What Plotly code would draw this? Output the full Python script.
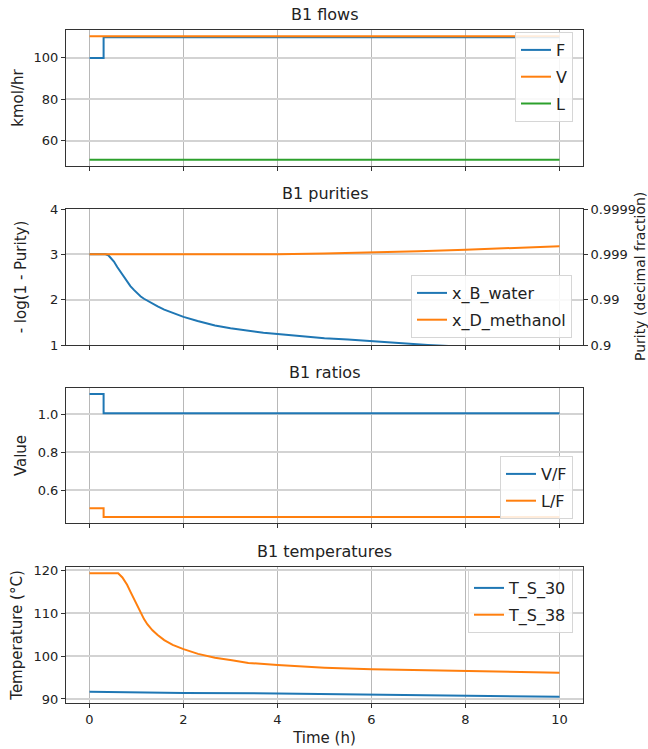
import plotly.graph_objects as go

# ---- data ----
step_t = [0, 0.3, 10]
F_flow = [100, 110, 110]
V_flow = [110.5, 110.5, 110.5]
L_flow = [50.7, 50.7, 50.7]

xB_t = [0, 0.34, 0.40, 0.44, 0.52, 0.59, 0.66, 0.73, 0.80, 0.87, 0.95, 1.02, 1.09, 1.16, 1.30, 1.45, 1.59,
        1.8, 2.0, 2.3, 2.67, 3.0, 3.38, 3.7, 4.0, 4.5, 5.0, 5.5, 6.0, 6.5, 7.2, 8.0, 9.0, 10.0]
xB_water = [3.0, 3.0, 2.98, 2.94, 2.84, 2.72, 2.61, 2.51, 2.40, 2.30, 2.21, 2.13, 2.07, 2.02, 1.93, 1.85, 1.78,
            1.69, 1.62, 1.53, 1.43, 1.37, 1.31, 1.27, 1.24, 1.19, 1.15, 1.12, 1.08, 1.05, 1.0, 0.96, 0.91, 0.87]
xD_t = [0, 1, 2, 3, 4, 5, 6, 7, 8, 9, 10]
xD_methanol = [3.0, 3.0, 2.995, 2.995, 3.0, 3.02, 3.04, 3.07, 3.1, 3.14, 3.18]

VF_ratio = [1.105, 1.005, 1.005]
LF_ratio = [0.507, 0.461, 0.461]

T38_t = [0, 0.61, 0.70, 0.80, 0.87, 0.95, 1.02, 1.09, 1.16, 1.23, 1.34, 1.45, 1.59, 1.77, 2.0, 2.31, 2.67,
         3.03, 3.38, 4.0, 5.0, 6.0, 7.0, 8.0, 9.0, 10.0]
T_S_38 = [119.3, 119.3, 118.3, 116.6, 115.0, 113.2, 111.4, 109.9, 108.6, 107.4, 106.0, 104.9, 103.7, 102.6, 101.6,
          100.5, 99.6, 99.0, 98.4, 97.9, 97.3, 96.9, 96.7, 96.5, 96.3, 96.1]
T30_t = [0, 0.8, 1.0, 2, 4, 6, 8, 10]
T_S_30 = [91.7, 91.6, 91.45, 91.4, 91.3, 91.0, 90.8, 90.5]

x_ticks = [0, 2, 4, 6, 8, 10]
purity_tickvals = [1, 2, 3, 4]
purity_ticktext = ["0.9", "0.99", "0.999", "0.9999"]
titles = ["B1 flows", "B1 purities", "B1 ratios", "B1 temperatures"]

C0, C1, C2 = "#1f77b4", "#ff7f0e", "#2ca02c"
FONT = "DejaVu Sans"

fig = go.Figure()

def line(x, y, name, color, xa, ya, leg, shape="linear"):
    fig.add_trace(go.Scatter(x=x, y=y, name=name, mode="lines", line=dict(color=color, width=2, shape=shape),
                             xaxis=xa, yaxis=ya, legend=leg, legendgroup=name))

line(step_t, F_flow, "F", C0, "x", "y", "legend", "hv")
line(step_t, V_flow, "V", C1, "x", "y", "legend", "hv")
line(step_t, L_flow, "L", C2, "x", "y", "legend", "hv")
line(xB_t, xB_water, "x_B_water", C0, "x2", "y2", "legend2")
line(xD_t, xD_methanol, "x_D_methanol", C1, "x2", "y5", "legend2")
line(step_t, VF_ratio, "V/F", C0, "x3", "y3", "legend3", "hv")
line(step_t, LF_ratio, "L/F", C1, "x3", "y3", "legend3", "hv")
line(T30_t, T_S_30, "T_S_30", C0, "x4", "y4", "legend4")
line(T38_t, T_S_38, "T_S_38", C1, "x4", "y4", "legend4")

L, R, T, B = 66, 65, 30, 46
W, H = 648, 749
ph = H - T - B
pw = W - L - R
def py(px):
    return 1 - (px - T) / ph
def pxx(px):
    return (px - L) / pw

domains = [(py(166), 1.0), (py(345), py(209)), (py(523), py(388)), (0.0, py(567))]

common_ax = dict(showline=True, mirror=True, linecolor="#333333", linewidth=1, automargin=False,
                 ticks="outside", ticklen=4, tickcolor="#333333", zeroline=False,
                 tickfont=dict(family=FONT, size=13, color="#222222"))

layout = dict(width=W, height=H, margin=dict(l=L, r=R, t=T, b=B, autoexpand=False),
              plot_bgcolor="white", paper_bgcolor="white",
              font=dict(family=FONT, size=13, color="#222222"), showlegend=True)

for i in range(4):
    sfx = "" if i == 0 else str(i + 1)
    xa = dict(common_ax, domain=[0, 1], anchor="y" + sfx, range=[-0.5, 10.5], tickvals=x_ticks,
              showgrid=True, gridcolor="#b8b8b8", gridwidth=1, showticklabels=(i == 3))
    if i != 0:
        xa["matches"] = "x"
    if i == 3:
        xa["title"] = dict(text="Time (h)", font=dict(family=FONT, size=15), standoff=6)
    layout["xaxis" + sfx] = xa

ytitle_font = dict(family=FONT, size=15, color="#222222")
layout["yaxis"] = dict(common_ax, domain=domains[0], anchor="x", range=[47.7, 113.5], tickvals=[60, 80, 100],
                       showgrid=True, gridcolor="#d3d3d3", gridwidth=1.5,
                       title=dict(text="kmol/hr", font=ytitle_font, standoff=6))
layout["yaxis2"] = dict(common_ax, domain=domains[1], anchor="x2", range=[1, 4], tickvals=purity_tickvals,
                        showgrid=True, gridcolor="#d3d3d3", gridwidth=1.5,
                        title=dict(text="- log(1 - Purity)", font=ytitle_font, standoff=19))
layout["yaxis5"] = dict(common_ax, overlaying="y2", side="right", anchor="x2", range=[1, 4],
                        tickvals=purity_tickvals, ticktext=purity_ticktext, showgrid=False, mirror=False)
layout["yaxis3"] = dict(common_ax, domain=domains[2], anchor="x3", range=[0.429, 1.137], tickvals=[0.6, 0.8, 1.0],
                        tickformat=".1f", showgrid=True, gridcolor="#d3d3d3", gridwidth=1.5,
                        title=dict(text="Value", font=ytitle_font, standoff=7))
layout["yaxis4"] = dict(common_ax, domain=domains[3], anchor="x4", range=[89.06, 120.74], tickvals=[90, 100, 110, 120],
                        showgrid=True, gridcolor="#d3d3d3", gridwidth=1.5,
                        title=dict(text="Temperature (°C)", font=ytitle_font, standoff=7))

leg_common = dict(bgcolor="rgba(255,255,255,0.85)", bordercolor="#d6d6d6", borderwidth=1,
                  font=dict(family=FONT, size=16, color="#222222"), xanchor="right",
                  tracegroupgap=3, itemwidth=30)
layout["legend"] = dict(leg_common, x=pxx(573), y=py(32), yanchor="top")
layout["legend2"] = dict(leg_common, x=pxx(572), y=py(338), yanchor="bottom")
layout["legend3"] = dict(leg_common, x=pxx(573), y=py(519), yanchor="bottom")
layout["legend4"] = dict(leg_common, x=pxx(573), y=py(570), yanchor="top")

ann = []
for i, t in enumerate(titles):
    ann.append(dict(text=t, x=0.5, xref="paper", y=domains[i][1], yref="paper", yanchor="bottom",
                    yshift=4, showarrow=False, font=dict(family=FONT, size=16, color="#222222")))
ann.append(dict(text="Purity (decimal fraction)", x=pxx(650), xref="paper", y=(domains[1][0] + domains[1][1]) / 2,
                yref="paper", textangle=-90, showarrow=False, font=dict(family=FONT, size=14, color="#222222")))
layout["annotations"] = ann

fig.update_layout(layout)
fig.write_html("out.html", config={"displayModeBar": False},
               post_script="document.body.style.margin='0px';document.body.style.padding='0px';")
